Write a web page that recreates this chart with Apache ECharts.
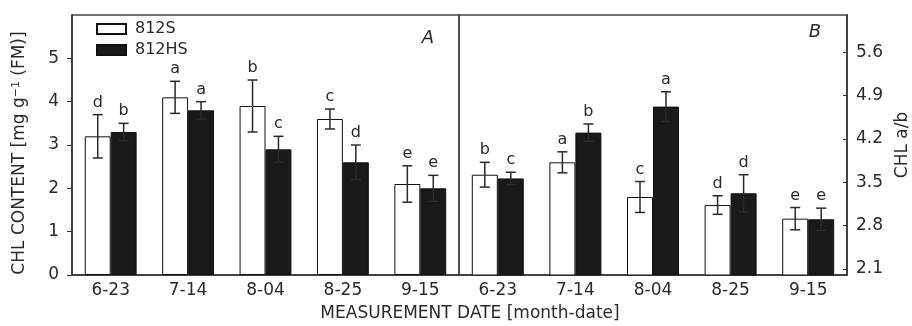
<!DOCTYPE html>
<html lang="en">
<head>
<meta charset="UTF-8">
<title>CHL content and CHL a/b</title>
<script src="https://cdn.jsdelivr.net/npm/echarts@6/dist/echarts.min.js"></script>
<style>
  html, body { margin: 0; padding: 0; background: #fff; }
  #main { width: 912px; height: 326px; }
</style>
</head>
<body>
<div id="main"></div>
<script>
// categories
var dates = ['6-23', '7-14', '8-04', '8-25', '9-15'];

// panel A: CHL content (left axis)
var contS = [3.2, 4.1, 3.9, 3.6, 2.1];
var contSErr = [0.5, 0.37, 0.6, 0.23, 0.42];
var contSLet = ['d', 'a', 'b', 'c', 'e'];
var contHS = [3.3, 3.8, 2.9, 2.6, 2.0];
var contHSErr = [0.2, 0.2, 0.3, 0.4, 0.3];
var contHSLet = ['b', 'a', 'c', 'd', 'e'];

// panel B: CHL a/b (right axis)
var ratioS = [3.62, 3.82, 3.26, 3.13, 2.91];
var ratioSErr = [0.2, 0.17, 0.25, 0.15, 0.18];
var ratioSLet = ['b', 'a', 'c', 'd', 'e'];
var ratioHS = [3.56, 4.3, 4.72, 3.32, 2.9];
var ratioHSErr = [0.1, 0.14, 0.24, 0.3, 0.18];
var ratioHSLet = ['c', 'b', 'a', 'd', 'e'];

// tick labels
var leftTicks = [0, 1, 2, 3, 4, 5];
var rightTicks = [2.1, 2.8, 3.5, 4.2, 4.9, 5.6];

var FONT = '"DejaVu Sans", "Liberation Sans", Arial, sans-serif';
var INK = '#2a2a2a';
var GAP = 0.33;

function barSeries(name, idx, vals, fill) {
    return {
        name: name,
        type: 'bar',
        xAxisIndex: idx,
        yAxisIndex: idx,
        barGap: 0,
        barCategoryGap: '33%',
        itemStyle: { color: fill, borderColor: '#111', borderWidth: 1 },
        data: vals
    };
}

// error bars + significance letters
function errSeries(idx, vals, errs, lets, side) {
    var d = vals.map(function (v, i) { return [i, v - errs[i], v + errs[i]]; });
    return {
        type: 'custom',
        xAxisIndex: idx,
        yAxisIndex: idx,
        z: 5,
        silent: true,
        encode: { x: 0, y: [1, 2] },
        data: d,
        renderItem: function (params, api) {
            var bw = api.size([1, 0])[0];
            var w = bw * (1 - GAP) / 2;
            var lo = api.coord([api.value(0), api.value(1)]);
            var hi = api.coord([api.value(0), api.value(2)]);
            var x = lo[0] + side * w / 2;
            var c = 5;
            var st = { stroke: INK, lineWidth: 1.5 };
            return {
                type: 'group',
                children: [
                    { type: 'line', shape: { x1: x, y1: lo[1], x2: x, y2: hi[1] }, style: st },
                    { type: 'line', shape: { x1: x - c, y1: hi[1], x2: x + c, y2: hi[1] }, style: st },
                    { type: 'line', shape: { x1: x - c, y1: lo[1], x2: x + c, y2: lo[1] }, style: st },
                    {
                        type: 'text', x: x, y: hi[1] - 4,
                        style: {
                            text: lets[params.dataIndex], fill: INK,
                            font: '16px ' + FONT, textAlign: 'center', textVerticalAlign: 'bottom'
                        }
                    }
                ]
            };
        }
    };
}

var xAxisBase = {
    type: 'category',
    data: dates,
    axisLine: { show: true, lineStyle: { color: '#333', width: 1.5 } },
    axisTick: { show: false },
    axisLabel: { color: INK, fontSize: 17, fontFamily: FONT, margin: 7 },
    splitLine: { show: false }
};

var chart = echarts.init(document.getElementById('main'));
var option = {
    animation: false,
    backgroundColor: '#fff',
    textStyle: { fontFamily: FONT },
    grid: [
        { left: 72, right: 453, top: 15, bottom: 51, show: true, borderColor: '#444', borderWidth: 1.5 },
        { left: 459, right: 64, top: 15, bottom: 51, show: true, borderColor: '#444', borderWidth: 1.5 }
    ],
    legend: {
        orient: 'vertical',
        left: 91,
        top: 16,
        itemWidth: 29,
        itemHeight: 10,
        itemGap: 5,
        icon: 'rect',
        data: ['812S', '812HS'],
        textStyle: { color: INK, fontSize: 16, fontFamily: FONT, padding: [0, 0, 0, 4] }
    },
    xAxis: [
        Object.assign({ gridIndex: 0 }, xAxisBase),
        Object.assign({ gridIndex: 1 }, xAxisBase)
    ],
    yAxis: [
        {
            gridIndex: 0,
            type: 'value',
            min: 0,
            max: 6,
            interval: 1,
            axisLine: { show: true, lineStyle: { color: '#333', width: 1.5 } },
            axisTick: { show: true, inside: false, length: 5, lineStyle: { color: '#333' }, customValues: leftTicks },
            axisLabel: { color: INK, fontSize: 17, fontFamily: FONT, margin: 13, customValues: leftTicks },
            splitLine: { show: false }
        },
        {
            gridIndex: 1,
            type: 'value',
            position: 'right',
            min: 2.0,
            max: 6.2,
            name: 'CHL a/b',
            nameLocation: 'middle',
            nameRotate: 90,
            nameGap: 47,
            nameTextStyle: { color: INK, fontSize: 17, fontFamily: FONT },
            axisLine: { show: true, lineStyle: { color: '#333', width: 1.5 } },
            axisTick: { show: true, inside: true, length: 4, lineStyle: { color: '#333' }, customValues: rightTicks },
            axisLabel: {
                color: INK, fontSize: 17, fontFamily: FONT, margin: 9, customValues: rightTicks,
                formatter: function (v) { return v.toFixed(1); }
            },
            splitLine: { show: false }
        }
    ],
    graphic: [
        {
            type: 'text', x: 20, y: 153, rotation: Math.PI / 2,
            style: {
                text: 'CHL CONTENT [mg g{sup|\u22121} (FM)]',
                font: '17px ' + FONT, fill: INK, textAlign: 'center', textVerticalAlign: 'middle',
                rich: { sup: { fontSize: 11, fontFamily: FONT, fill: INK, verticalAlign: 'top', padding: [0, 0, 8, 0] } }
            }
        },
        { type: 'text', x: 428, y: 38, style: { text: 'A', font: 'italic 18px ' + FONT, fill: INK, textAlign: 'center', textVerticalAlign: 'middle' } },
        { type: 'text', x: 815, y: 32, style: { text: 'B', font: 'italic 18px ' + FONT, fill: INK, textAlign: 'center', textVerticalAlign: 'middle' } },
        { type: 'text', x: 470, y: 314, style: { text: 'MEASUREMENT DATE [month-date]', font: '17px ' + FONT, fill: INK, textAlign: 'center', textVerticalAlign: 'middle' } }
    ],
    series: [
        barSeries('812S', 0, contS, '#fff'),
        barSeries('812HS', 0, contHS, '#1a1a1a'),
        barSeries('812S', 1, ratioS, '#fff'),
        barSeries('812HS', 1, ratioHS, '#1a1a1a'),
        errSeries(0, contS, contSErr, contSLet, -1),
        errSeries(0, contHS, contHSErr, contHSLet, 1),
        errSeries(1, ratioS, ratioSErr, ratioSLet, -1),
        errSeries(1, ratioHS, ratioHSErr, ratioHSLet, 1)
    ]
};
chart.setOption(option);
window.addEventListener('resize', function () {
    chart.resize();
});
</script>
</body>
</html>
